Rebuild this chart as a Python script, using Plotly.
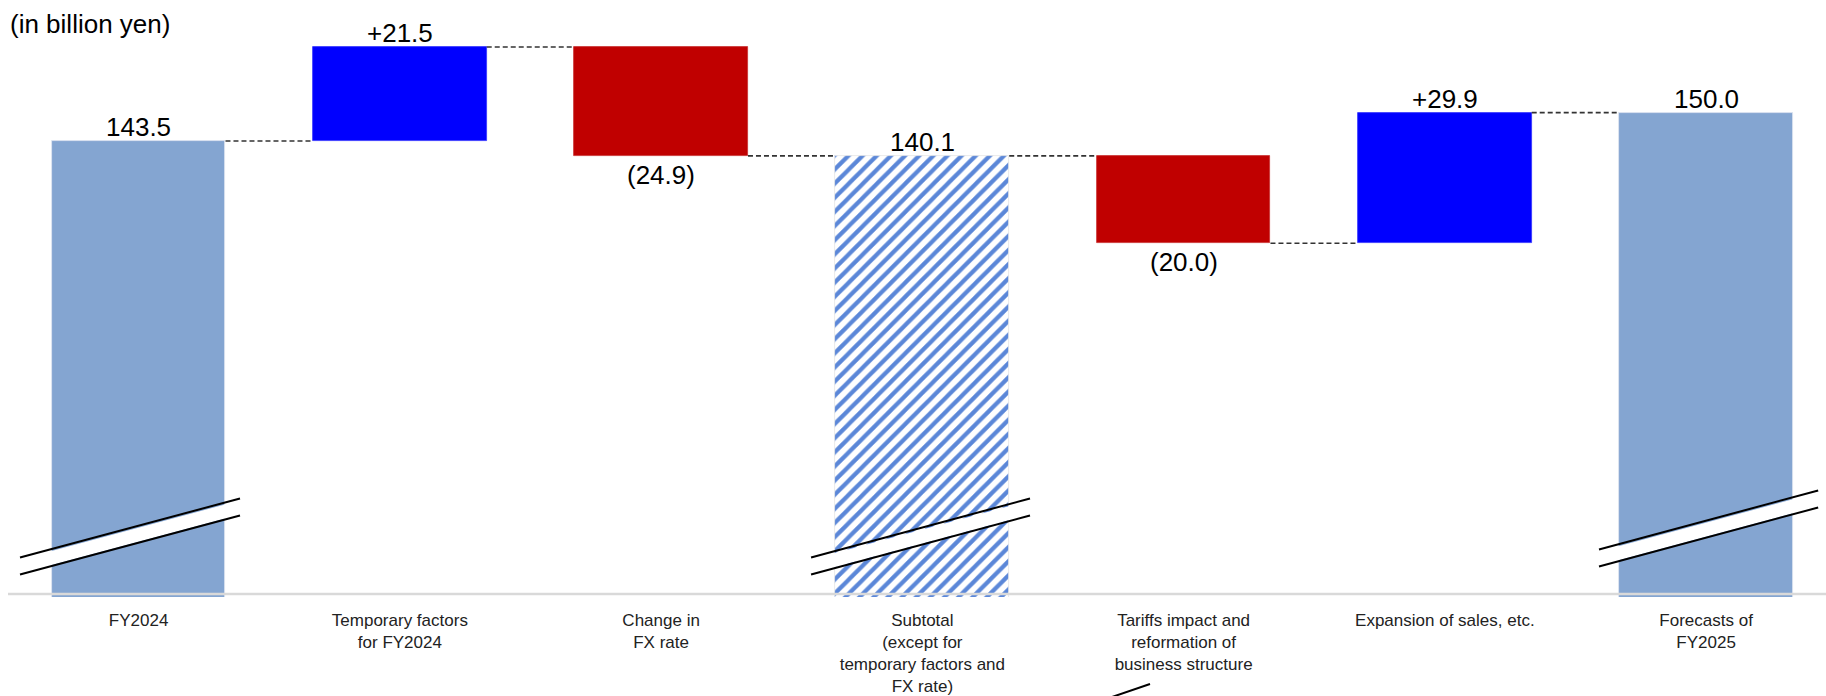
import plotly.graph_objects as go

# ---- data ----
categories = [
    "FY2024",
    "Temporary factors<br>for FY2024",
    "Change in<br>FX rate",
    "Subtotal<br>(except for<br>temporary factors and<br>FX rate)",
    "Tariffs impact and<br>reformation of<br>business structure",
    "Expansion of sales, etc.",
    "Forecasts of<br>FY2025",
]
values = [143.5, 21.5, -24.9, 140.1, -20.0, 29.9, 150.0]
measures = ["absolute", "relative", "relative", "total", "relative", "relative", "total"]
value_labels = ["143.5", "+21.5", "(24.9)", "140.1", "(20.0)", "+29.9", "150.0"]
unit_label = "(in billion yen)"

# ---- styles ----
FONT = "Liberation Sans, Arial, sans-serif"
C_TOTAL = "#84A5D1"
C_UP = "#0000FF"
C_DOWN = "#C00000"
C_HATCH = "#5B87D8"
BAR_W = 0.665
W, H = 1826, 696
PLOT_BOTTOM_PX = 597  # plot area bottom (px)
Y_RANGE = [39.15, 175.77]
LABEL_SIZE = 26

# ---- compute waterfall geometry from data ----
xs = list(range(len(categories)))
bases, heights, colors, shapes_pat, levels_after, tops, bottoms = [], [], [], [], [], [], []
running = 0.0
for k, (v, m) in enumerate(zip(values, measures)):
    if m == "absolute":
        base, h = 0.0, v
        running = v
        colors.append(C_TOTAL); shapes_pat.append("")
    elif m == "total":
        base, h = 0.0, running
        last = k == len(values) - 1
        colors.append(C_TOTAL if last else C_HATCH)
        shapes_pat.append("" if last else "/")
    else:
        base = running if v >= 0 else running + v
        h = abs(v)
        running += v
        colors.append(C_UP if v >= 0 else C_DOWN); shapes_pat.append("")
    bases.append(base); heights.append(h)
    tops.append(base + h); bottoms.append(base)
    levels_after.append(running)

fig = go.Figure()
fig.add_trace(go.Bar(
    x=xs, y=heights, base=bases, width=BAR_W,
    marker=dict(
        color=colors,
        line=dict(width=0.8, color=["#dfe6f0", "#3333ff", "#c83030", "#e4e4e4", "#c83030", "#3333ff", "#dfe6f0"]),
        pattern=dict(shape=shapes_pat, size=10, solidity=0.42, fillmode="replace"),
    ),
    hoverinfo="skip", showlegend=False,
))

shapes = []
# connectors
for i in range(len(values) - 1):
    shapes.append(dict(
        type="line", xref="x", yref="y",
        x0=i + BAR_W / 2, x1=i + 1 - BAR_W / 2,
        y0=levels_after[i], y1=levels_after[i],
        line=dict(color="#333333", width=1.6, dash="5px,3px"),
    ))

def py(px):
    return (PLOT_BOTTOM_PX - px) / PLOT_BOTTOM_PX

# baseline
shapes.append(dict(type="line", xref="paper", yref="paper", x0=8 / W, x1=1.0,
                   y0=py(594), y1=py(594), line=dict(color="#D9D9D9", width=2.5)))

# axis-break marks on the total bars: (index, left offset, right offset, vertical px shift)
break_specs = [(0, -0.454, 0.388, 0), (3, -0.426, 0.412, 0), (6, -0.41, 0.429, -8)]
for idx, lo, hi, dy in break_specs:
    xa, xb = idx + lo, idx + hi
    u0, u1 = 557.5 + dy, 498.5 + dy
    l0, l1 = 574.5 + dy, 515.5 + dy
    shapes.append(dict(
        type="path", xref="x", yref="paper",
        path=f"M {xa},{py(u0 + 2)} L {xb},{py(u1 + 2)} L {xb},{py(l1 - 1)} L {xa},{py(l0 - 1)} Z",
        fillcolor="white", line=dict(width=0),
    ))
    for a, b in ((u0, u1), (l0, l1)):
        shapes.append(dict(type="line", xref="x", yref="paper", x0=xa, x1=xb,
                           y0=py(a), y1=py(b), line=dict(color="black", width=2)))

# stray partial break mark at the bottom edge
shapes.append(dict(type="line", xref="paper", yref="paper",
                   x0=1112 / W, x1=1150 / W, y0=py(697), y1=py(684),
                   line=dict(color="black", width=2)))

annotations = []
for i, (lab, v) in enumerate(zip(value_labels, values)):
    if v < 0:
        annotations.append(dict(x=i, y=bottoms[i], xref="x", yref="y", text=lab,
                                showarrow=False, yanchor="top", yshift=-2,
                                font=dict(family=FONT, size=LABEL_SIZE, color="#000")))
    else:
        annotations.append(dict(x=i, y=tops[i], xref="x", yref="y", text=lab,
                                showarrow=False, yanchor="bottom", yshift=-3,
                                font=dict(family=FONT, size=LABEL_SIZE, color="#000")))

annotations.append(dict(x=8 / W, y=py(24), xref="paper", yref="paper", text=unit_label,
                        showarrow=False, xanchor="left", yanchor="middle",
                        font=dict(family=FONT, size=LABEL_SIZE, color="#000")))

fig.update_layout(
    width=W, height=H,
    margin=dict(l=0, r=0, t=0, b=H - PLOT_BOTTOM_PX, pad=0, autoexpand=False),
    paper_bgcolor="white", plot_bgcolor="white",
    bargap=0,
    shapes=shapes, annotations=annotations,
    xaxis=dict(
        range=[-0.5306, 6.459], tickvals=xs, ticktext=categories,
        showgrid=False, zeroline=False, showline=False, ticks="",
        automargin=False,
        ticklabelstandoff=11,
        tickfont=dict(family=FONT, size=17, color="#222"),
        fixedrange=True,
    ),
    yaxis=dict(range=Y_RANGE, visible=False, fixedrange=True, automargin=False),
    font=dict(family=FONT),
)

fig.write_html("out.html")
